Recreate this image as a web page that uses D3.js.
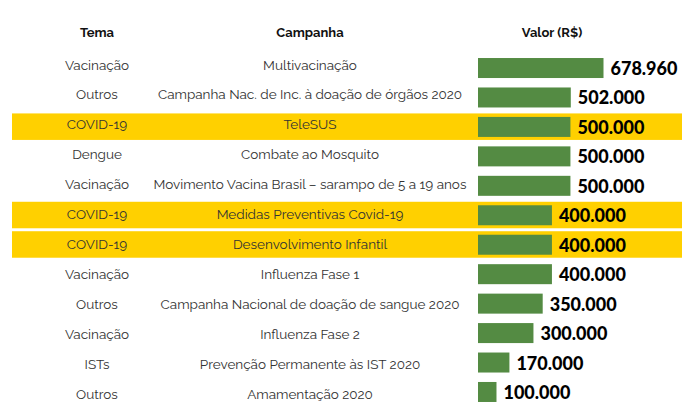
<!DOCTYPE html>
<html><head><meta charset="utf-8">
<script src="https://cdn.jsdelivr.net/npm/d3@7"></script>
<style>body{margin:0;background:#fff}svg{display:block}</style>
</head><body>
<svg id="c" width="696" height="418"></svg>
<script>
const temas = ["Vacinação","Outros","COVID-19","Dengue","Vacinação","COVID-19","COVID-19","Vacinação","Outros","Vacinação","ISTs","Outros"];
const campanhas = ["Multivacinação","Campanha Nac. de Inc. à doação de órgãos 2020","TeleSUS","Combate ao Mosquito","Movimento Vacina Brasil – sarampo de 5 a 19 anos","Medidas Preventivas Covid-19","Desenvolvimento Infantil","Influenza Fase 1","Campanha Nacional de doação de sangue 2020","Influenza Fase 2","Prevenção Permanente às IST 2020","Amamentação 2020"];
const valores = [678960,502000,500000,500000,500000,400000,400000,400000,350000,300000,170000,100000];
const cabecalhos = ["Tema","Campanha","Valor (R$)"];
const destaque = "COVID-19";

const svg = d3.select("#c");
const idx = d3.range(valores.length);
const y = d3.scaleBand().domain(idx).range([53.3, 406.7]);
const yTexto = d3.scalePoint().domain(idx).range([69.5, 399]);
const x = d3.scaleLinear().domain([0, d3.max(valores)]).range([478, 603.5]);
const fmt = d3.formatLocale({decimal:",",thousands:".",grouping:[3],currency:["R$",""]}).format(",d");

const font = "Raleway, Lato, 'Open Sans', sans-serif";
const colTema = 97, colCamp = 310, colValor = 552;
const mid = i => y(i) + y.bandwidth()/2;

// highlight bands
svg.selectAll("rect.hl").data(idx.filter(i => temas[i] === destaque)).join("rect")
  .attr("class","hl").attr("x",12).attr("width",670)
  .attr("y", i => mid(i) - 13.5).attr("height",26.5)
  .attr("fill","#ffd000");

// headers
svg.selectAll("text.h").data(cabecalhos).join("text")
  .attr("class","h").attr("x",(d,i)=>[colTema,colCamp,colValor][i]).attr("y",37)
  .attr("text-anchor","middle").attr("font-family",font).attr("font-weight",700)
  .attr("font-size",13).attr("fill","#111").text(d=>d);

// tema
svg.selectAll("text.t").data(idx).join("text")
  .attr("class","t").attr("x",colTema).attr("y",i=>yTexto(i))
  .attr("text-anchor","middle").attr("font-family",font)
  .attr("font-size",13.5).attr("fill","#333").text(i=>temas[i]);

// campanha
svg.selectAll("text.c").data(idx).join("text")
  .attr("class","c").attr("x",colCamp).attr("y",i=>yTexto(i))
  .attr("text-anchor","middle").attr("font-family",font)
  .attr("font-size",13.5).attr("fill","#333").text(i=>campanhas[i]);

// bars
svg.selectAll("rect.b").data(idx).join("rect")
  .attr("class","b").attr("x",x(0)).attr("y",i=>mid(i)-10)
  .attr("width",i=>x(valores[i])-x(0)).attr("height",20)
  .attr("fill","#548b43");

// values
svg.selectAll("text.v").data(idx).join("text")
  .attr("class","v").attr("x",i=>x(valores[i])+7).attr("y",i=>mid(i)+7)
  .attr("font-family","Lato, sans-serif").attr("font-weight",900)
  .attr("font-size",18).attr("fill","#000").text(i=>fmt(valores[i]));
</script>
</body></html>
